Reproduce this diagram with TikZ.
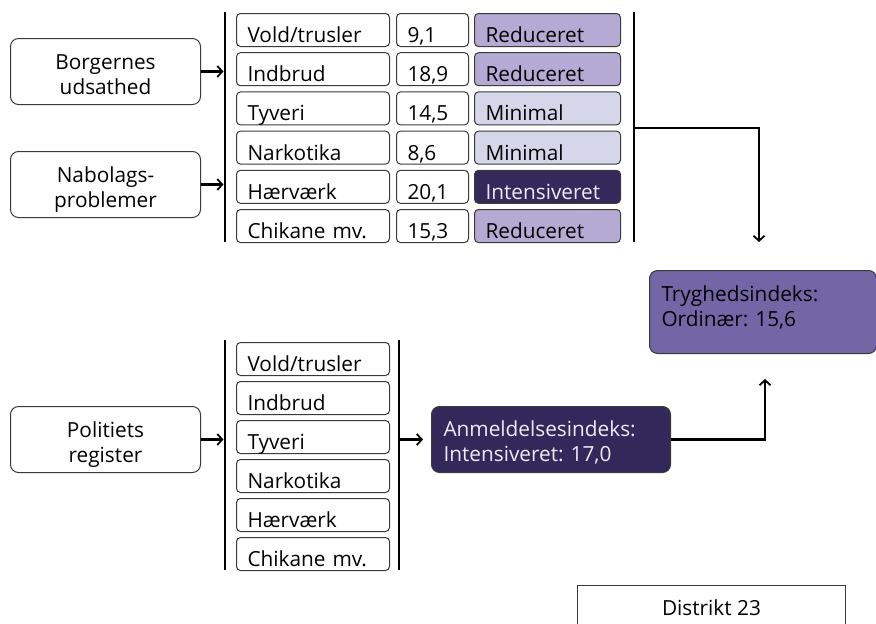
\documentclass[tikz,border=0pt]{standalone}
\usepackage{fontspec}
\setmainfont{Open Sans}
\frenchspacing
\usetikzlibrary{arrows.meta}
\definecolor{cred}{HTML}{B4AAD3}
\definecolor{cmin}{HTML}{D5D6EA}
\definecolor{cint}{HTML}{33295B}
\definecolor{ctryg}{HTML}{7266A6}
\definecolor{canm}{HTML}{32285A}
\definecolor{boxc}{HTML}{3A3A3A}
\definecolor{lighttxt}{HTML}{EEEBF6}
% #1 extra space on top, #2 extra space below (shifts the text inside a centred node)
\newcommand{\twoc}[4]{\raisebox{0pt}[\dimexpr\height+#1\relax][\dimexpr\depth+#2\relax]{\begin{tabular}{@{}c@{}}#3\\#4\end{tabular}}}
\newcommand{\twol}[4]{\raisebox{0pt}[\dimexpr\height+#1\relax][\dimexpr\depth+#2\relax]{\begin{tabular}{@{}l@{}}#3\\#4\end{tabular}}}
\begin{document}
\begin{tikzpicture}[x=1pt,y=-1pt,
  every node/.style={font=\fontsize{20.8}{25}\selectfont},
  base/.style={draw=boxc, line width=1pt, rounded corners=4pt, inner ysep=0pt,
    text height=29pt, text depth=4pt, align=left, anchor=north west, inner xsep=11pt},
  cat/.style={base, text width=131pt},
  num/.style={base, text width=50pt},
  stat/.style={base, text width=124pt},
  src/.style={draw=boxc, line width=1pt, rounded corners=8pt,
    minimum width=190pt, minimum height=66pt, anchor=north west, inner sep=0pt},
  vline/.style={line width=2.2pt, black},
  arr/.style={line width=2.2pt, black, -{Straight Barb[length=5pt,width=11pt,line width=1.8pt]}},
  idx/.style={draw=boxc, line width=1pt, rounded corners=8pt,
    anchor=north west, inner xsep=12pt, inner ysep=0pt}
]
\useasboundingbox (0,0) rectangle (876,624);

% --- upper part: sources
\node[src] (borg) at (10,38) {\twoc{10pt}{0pt}{Borgernes}{udsathed}};
\node[src] (nabo) at (10,151) {\twoc{10pt}{0pt}{Nabolags-}{problemer}};

% --- upper table
\node[cat] (c1) at (236,13.0) {Vold/trusler};
\node[cat] (c2) at (236,52.2) {Indbrud};
\node[cat] (c3) at (236,91.4) {Tyveri};
\node[cat] (c4) at (236,130.6) {Narkotika};
\node[cat] (c5) at (236,169.8) {Hærværk};
\node[cat] (c6) at (236,209.0) {Chikane mv.};

\node[num] (n1) at (396,13.0) {9,1};
\node[num] (n2) at (396,52.2) {18,9};
\node[num] (n3) at (396,91.4) {14,5};
\node[num] (n4) at (396,130.6) {8,6};
\node[num] (n5) at (396,169.8) {20,1};
\node[num] (n6) at (396,209.0) {15,3};

\node[stat, fill=cred] (s1) at (474,13.0) {Reduceret};
\node[stat, fill=cred] (s2) at (474,52.2) {Reduceret};
\node[stat, fill=cmin] (s3) at (474,91.4) {Minimal};
\node[stat, fill=cmin] (s4) at (474,130.6) {Minimal};
\node[stat, fill=cint, text=lighttxt] (s5) at (474,169.8) {Intensiveret};
\node[stat, fill=cred] (s6) at (474,209.0) {Reduceret};

\coordinate (ult) at (225,12);
\coordinate (ulb) at (225,242);
\coordinate (urt) at (634,12);
\coordinate (urb) at (634,242);
\coordinate (urm) at (634,128);
\draw[vline] (ult) -- (ulb);
\draw[vline] (urt) -- (urb);

\draw[arr, shorten >=1.5pt] (borg.east) -- (borg.east -| ult);
\draw[arr, shorten >=1.5pt] (nabo.east) -- (nabo.east -| ult);

% --- result
\node[idx, fill=ctryg, minimum width=227pt, minimum height=83pt, text width=203pt] (tryg) at (649,270)
  {\twol{0pt}{6pt}{Tryghedsindeks:}{Ordinær: 15,6}};

\draw[arr, shorten >=28pt] (urm) -| ([xshift=-4pt]tryg.north);

% --- lower part
\node[src] (pol) at (10,406) {\twoc{10pt}{0pt}{Politiets}{register}};

\node[cat] (p1) at (236,342) {Vold/trusler};
\node[cat] (p2) at (236,381) {Indbrud};
\node[cat] (p3) at (236,420) {Tyveri};
\node[cat] (p4) at (236,459) {Narkotika};
\node[cat] (p5) at (236,498) {Hærværk};
\node[cat] (p6) at (236,537) {Chikane mv.};

\coordinate (llt) at (225,340);
\coordinate (llb) at (225,570);
\coordinate (lrt) at (399,340);
\coordinate (lrb) at (399,570);
\draw[vline] (llt) -- (llb);
\draw[vline] (lrt) -- (lrb);

\node[idx, fill=canm, text=lighttxt, minimum width=239pt, minimum height=66pt, text width=215pt] (anm) at (431,406)
  {\twol{8pt}{0pt}{Anmeldelsesindeks:}{Intensiveret: 17,0}};

\draw[arr, shorten >=1.5pt] (pol.east) -- (pol.east -| llt);
\draw[arr, shorten >=8pt] (pol.east -| lrt) -- (anm.west);
\draw[arr, shorten >=25pt] (anm.east) -| ([xshift=2pt]tryg.south);

% --- district label
\node[draw=boxc, line width=1pt, anchor=north west, minimum width=268pt, inner ysep=0pt,
  text height=30pt, text depth=30pt] (dist) at (577,585) {Distrikt 23};
\end{tikzpicture}
\end{document}
